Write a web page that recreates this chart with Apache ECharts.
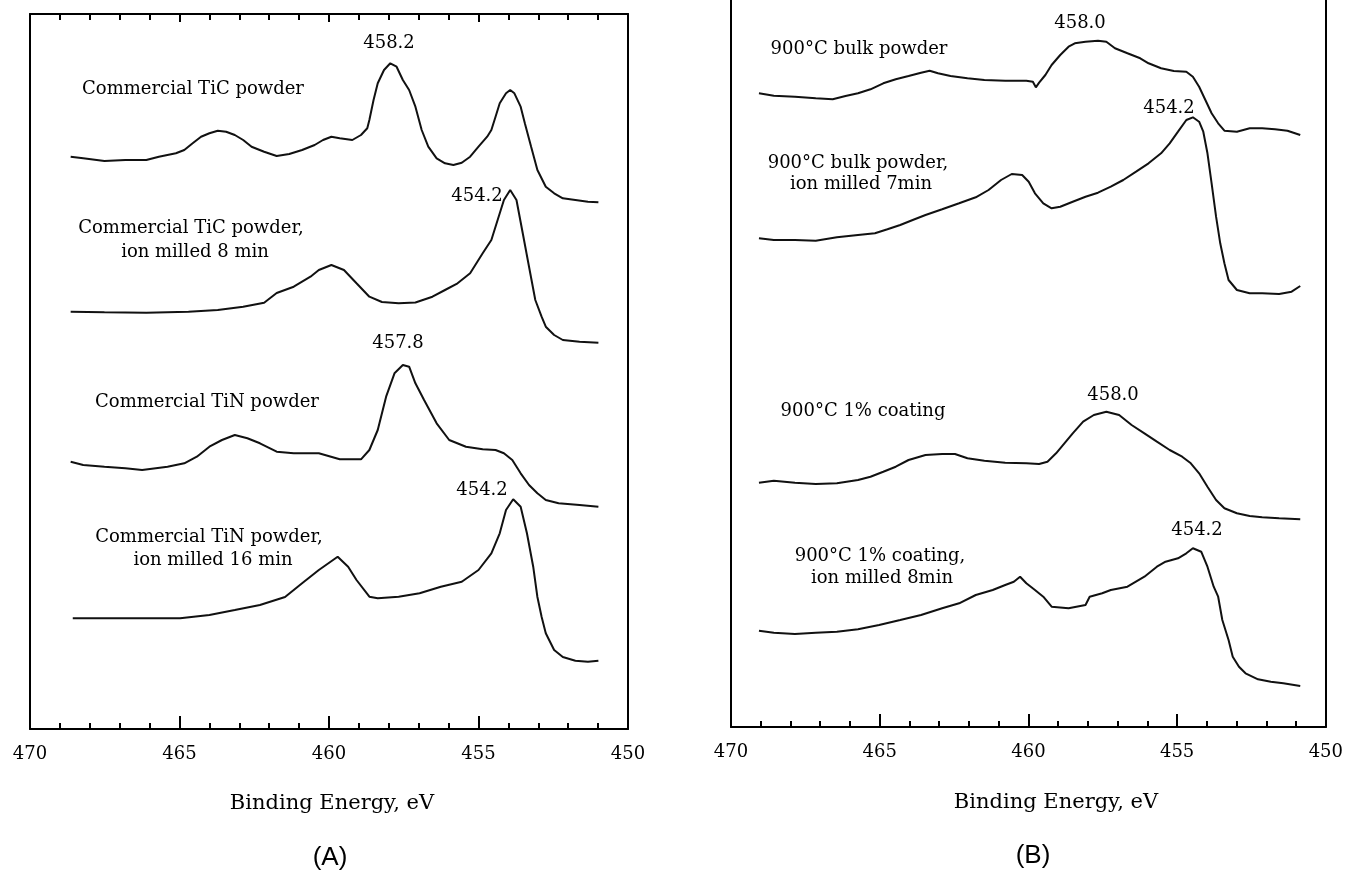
<!DOCTYPE html>
<html>
<head>
<meta charset="utf-8">
<script src="https://cdn.jsdelivr.net/npm/echarts@6/dist/echarts.min.js"></script>
<style>html,body{margin:0;padding:0;background:#fff}#c{width:1346px;height:874px}</style>
</head>
<body>
<div id="c"></div>
<script>
// Binding energy ticks (eV)
const energyTicks = [470, 465, 460, 455, 450];

// Panel A spectra: [binding energy eV, intensity a.u. (offset)]
const ticPowder = [[468.64,57.03],[468.22,56.87],[467.51,56.6],[466.81,56.7],[466.11,56.7],[465.69,57.03],[465.12,57.37],[464.84,57.7],[464.56,58.37],[464.28,59.03],[464.0,59.37],[463.72,59.63],[463.44,59.53],[463.15,59.2],[462.87,58.7],[462.59,58.03],[462.17,57.53],[461.75,57.1],[461.33,57.3],[460.9,57.7],[460.48,58.2],[460.2,58.7],[459.92,59.03],[459.64,58.87],[459.22,58.7],[458.93,59.2],[458.72,59.87],[458.65,60.7],[458.51,62.7],[458.37,64.37],[458.16,65.7],[457.95,66.37],[457.74,66.03],[457.53,64.7],[457.32,63.7],[457.11,62.03],[456.9,59.7],[456.68,58.03],[456.4,56.87],[456.12,56.37],[455.84,56.2],[455.56,56.43],[455.28,57.03],[455.0,58.03],[454.71,59.03],[454.57,59.7],[454.43,61.03],[454.29,62.37],[454.08,63.37],[453.94,63.7],[453.8,63.37],[453.59,62.03],[453.45,60.37],[453.24,58.03],[453.03,55.7],[452.75,54.03],[452.47,53.37],[452.18,52.87],[451.76,52.7],[451.34,52.53],[450.99,52.47]];
const ticMilled = [[468.64,41.53],[467.51,41.47],[466.11,41.43],[464.7,41.53],[463.72,41.7],[462.87,42.03],[462.17,42.43],[461.75,43.4],[461.18,44.03],[460.62,45.03],[460.34,45.7],[459.92,46.2],[459.5,45.7],[459.08,44.37],[458.65,43.03],[458.23,42.5],[457.67,42.37],[457.11,42.45],[456.54,43.03],[456.12,43.7],[455.7,44.37],[455.28,45.37],[454.86,47.37],[454.57,48.7],[454.36,50.7],[454.15,52.7],[453.94,53.7],[453.73,52.7],[453.52,49.37],[453.31,46.03],[453.1,42.7],[452.89,41.03],[452.75,40.03],[452.47,39.2],[452.18,38.7],[451.62,38.53],[450.99,38.43]];
const tinPowder = [[468.64,26.53],[468.22,26.2],[467.51,26.03],[466.81,25.87],[466.25,25.7],[465.4,26.03],[464.84,26.37],[464.42,27.03],[464.0,28.03],[463.58,28.7],[463.15,29.2],[462.73,28.87],[462.31,28.37],[461.75,27.53],[461.18,27.37],[460.34,27.37],[459.64,26.77],[458.93,26.77],[458.65,27.7],[458.37,29.7],[458.09,33.03],[457.81,35.37],[457.53,36.2],[457.32,36.03],[457.11,34.37],[456.82,32.7],[456.4,30.37],[455.98,28.7],[455.42,28.03],[454.86,27.77],[454.43,27.7],[454.15,27.37],[453.87,26.7],[453.59,25.37],[453.31,24.2],[453.03,23.37],[452.75,22.7],[452.32,22.37],[451.62,22.2],[450.99,22.03]];
const tinMilled = [[468.57,10.87],[467.51,10.87],[466.11,10.87],[464.98,10.87],[464.0,11.2],[463.15,11.7],[462.31,12.2],[461.47,13.0],[460.9,14.37],[460.34,15.7],[459.71,17.03],[459.36,16.03],[459.08,14.7],[458.65,13.03],[458.37,12.87],[457.67,13.03],[456.97,13.37],[456.26,14.03],[455.56,14.53],[455.0,15.7],[454.57,17.37],[454.29,19.37],[454.08,21.7],[453.84,22.77],[453.59,22.03],[453.38,19.37],[453.17,16.03],[453.03,13.0],[452.89,11.03],[452.75,9.37],[452.47,7.7],[452.18,7.0],[451.76,6.63],[451.34,6.53],[450.99,6.63]];

// Panel B spectra
const bulkPowder = [[469.06,63.37],[468.56,63.13],[467.85,63.03],[467.15,62.87],[466.58,62.77],[466.15,63.1],[465.73,63.37],[465.31,63.77],[464.88,64.37],[464.46,64.77],[464.03,65.1],[463.61,65.43],[463.32,65.63],[463.04,65.37],[462.62,65.1],[462.05,64.87],[461.48,64.7],[460.78,64.63],[460.07,64.63],[459.85,64.53],[459.75,63.97],[459.64,64.43],[459.43,65.2],[459.22,66.2],[458.93,67.2],[458.65,68.03],[458.44,68.37],[458.08,68.53],[457.66,68.63],[457.38,68.53],[457.09,67.87],[456.67,67.37],[456.24,66.87],[455.96,66.37],[455.54,65.87],[455.11,65.6],[454.69,65.53],[454.47,65.03],[454.26,64.03],[454.05,62.7],[453.84,61.37],[453.62,60.37],[453.41,59.63],[452.99,59.53],[452.56,59.87],[452.14,59.87],[451.71,59.77],[451.29,59.63],[450.86,59.2]];
const bulkMilled = [[469.06,48.87],[468.56,48.7],[467.85,48.7],[467.15,48.63],[466.44,48.97],[465.73,49.2],[465.16,49.37],[464.74,49.77],[464.31,50.2],[463.89,50.7],[463.46,51.2],[462.9,51.77],[462.33,52.37],[461.77,52.97],[461.34,53.7],[460.92,54.7],[460.56,55.3],[460.21,55.2],[459.99,54.53],[459.78,53.37],[459.5,52.37],[459.22,51.87],[458.93,52.03],[458.51,52.53],[458.08,53.03],[457.66,53.43],[457.23,54.03],[456.81,54.7],[456.38,55.53],[455.96,56.37],[455.54,57.37],[455.25,58.37],[454.97,59.53],[454.69,60.7],[454.47,60.97],[454.26,60.53],[454.12,59.53],[453.98,57.37],[453.84,54.37],[453.69,51.03],[453.55,48.37],[453.41,46.37],[453.27,44.7],[452.99,43.7],[452.56,43.37],[452.14,43.37],[451.57,43.3],[451.15,43.53],[450.86,44.1]];
const coating = [[469.06,24.43],[468.56,24.63],[467.85,24.43],[467.15,24.3],[466.44,24.37],[465.73,24.7],[465.31,25.03],[464.88,25.53],[464.46,26.03],[464.03,26.7],[463.46,27.2],[462.9,27.3],[462.47,27.3],[462.05,26.87],[461.48,26.63],[460.78,26.43],[460.07,26.37],[459.64,26.3],[459.36,26.53],[459.07,27.37],[458.79,28.37],[458.51,29.37],[458.16,30.53],[457.8,31.2],[457.38,31.53],[456.95,31.2],[456.53,30.2],[456.1,29.37],[455.68,28.53],[455.25,27.7],[454.83,27.03],[454.54,26.37],[454.26,25.37],[453.98,24.03],[453.69,22.7],[453.41,21.87],[452.99,21.37],[452.56,21.1],[452.14,20.97],[451.57,20.87],[450.86,20.77]];
const coatingMilled = [[469.06,9.63],[468.56,9.43],[467.85,9.3],[467.15,9.43],[466.44,9.53],[465.73,9.77],[465.02,10.2],[464.31,10.7],[463.61,11.2],[462.9,11.87],[462.33,12.37],[461.77,13.2],[461.2,13.7],[460.78,14.2],[460.49,14.53],[460.28,15.03],[460.07,14.37],[459.78,13.7],[459.5,13.03],[459.22,12.03],[458.65,11.87],[458.08,12.2],[457.94,13.03],[457.52,13.37],[457.23,13.7],[456.67,14.03],[456.1,15.03],[455.68,16.03],[455.39,16.53],[454.97,16.87],[454.69,17.37],[454.47,17.87],[454.19,17.53],[453.98,16.03],[453.77,14.03],[453.62,13.03],[453.48,10.7],[453.27,8.7],[453.13,7.03],[452.92,6.03],[452.7,5.37],[452.28,4.77],[451.85,4.53],[451.43,4.37],[450.86,4.1]];

const serif = 'DejaVu Serif';
const lineStyle = {color: '#111', width: 2};

function xAxisBottom(gridIndex) {
  return {
    type: 'value', gridIndex, position: 'bottom', min: 450, max: 470, interval: 5, inverse: true,
    axisLine: {show: true, onZero: false, lineStyle: {color: '#000', width: 2}},
    axisTick: {show: true, inside: true, length: 13, lineStyle: {color: '#000', width: 2}},
    minorTick: {show: true, splitNumber: 5, length: 6, lineStyle: {color: '#000', width: 2}},
    splitLine: {show: false},
    axisLabel: {show: true, margin: 16, fontFamily: serif, fontSize: 18, color: '#000',
      formatter: v => energyTicks.includes(v) ? String(v) : ''}
  };
}
function xAxisTop(gridIndex) {
  return {
    type: 'value', gridIndex, position: 'top', min: 450, max: 470, interval: 5, inverse: true,
    axisLine: {show: true, onZero: false, lineStyle: {color: '#000', width: 2}},
    axisTick: {show: true, inside: true, length: 8, lineStyle: {color: '#000', width: 2}},
    minorTick: {show: true, splitNumber: 5, length: 6, lineStyle: {color: '#000', width: 2}},
    splitLine: {show: false}, axisLabel: {show: false}
  };
}
function yAxis(gridIndex, min, max) {
  return {type: 'value', gridIndex, min, max, position: 'left',
    axisLine: {show: true, onZero: false, lineStyle: {color: '#000', width: 2}},
    axisTick: {show: false}, axisLabel: {show: false}, splitLine: {show: false}};
}
function yAxisRight(gridIndex, min, max) {
  return {type: 'value', gridIndex, min, max, position: 'right',
    axisLine: {show: true, onZero: false, lineStyle: {color: '#000', width: 2}},
    axisTick: {show: false}, axisLabel: {show: false}, splitLine: {show: false}};
}
function line(name, data, xi, yi) {
  return {name, type: 'line', data, xAxisIndex: xi, yAxisIndex: yi, showSymbol: false,
    symbol: 'none', lineStyle, animation: false, silent: true};
}
function txt(text, x, y, size, family) {
  return {type: 'text', x, y, style: {text, fill: '#000', font: (size || 18) + 'px "' + (family || serif) + '"',
    textAlign: 'center', textVerticalAlign: 'middle'}};
}

const chart = echarts.init(document.getElementById('c'), null, {renderer: 'canvas'});
chart.setOption({
  animation: false,
  backgroundColor: '#fff',
  grid: [
    {left: 30, top: 14, width: 598, height: 715, show: false},
    {left: 731, top: 0, width: 596, height: 727, show: false}
  ],
  xAxis: [xAxisBottom(0), xAxisTop(0), xAxisBottom(1)],
  yAxis: [yAxis(0, -0.2, 71.3), yAxisRight(0, -0.2, 71.3), yAxis(1, 0, 72.7), yAxisRight(1, 0, 72.7)],
  series: [
    line('Commercial TiC powder', ticPowder, 0, 0),
    line('Commercial TiC powder, ion milled 8 min', ticMilled, 0, 0),
    line('Commercial TiN powder', tinPowder, 0, 0),
    line('Commercial TiN powder, ion milled 16 min', tinMilled, 0, 0),
    line('900°C bulk powder', bulkPowder, 2, 2),
    line('900°C bulk powder, ion milled 7min', bulkMilled, 2, 2),
    line('900°C 1% coating', coating, 2, 2),
    line('900°C 1% coating, ion milled 8min', coatingMilled, 2, 2)
  ],
  graphic: [
    txt('458.2', 389, 43),
    txt('Commercial TiC powder', 193, 89),
    txt('454.2', 477, 196),
    txt('Commercial TiC powder,', 191, 228),
    txt('ion milled 8 min', 195, 252),
    txt('457.8', 398, 343),
    txt('Commercial TiN powder', 207, 402),
    txt('454.2', 482, 490),
    txt('Commercial TiN powder,', 209, 537),
    txt('ion milled 16 min', 213, 560),
    txt('458.0', 1080, 23),
    txt('900°C bulk powder', 859, 49),
    txt('454.2', 1169, 108),
    txt('900°C bulk powder,', 858, 163),
    txt('ion milled 7min', 861, 184),
    txt('458.0', 1113, 395),
    txt('900°C 1% coating', 863, 411),
    txt('454.2', 1197, 530),
    txt('900°C 1% coating,', 880, 556),
    txt('ion milled 8min', 882, 578),
    txt('Binding Energy, eV', 332, 804, 21),
    txt('Binding Energy, eV', 1056, 803, 21),
    txt('(A)', 330, 858, 26, 'Liberation Sans'),
    txt('(B)', 1033, 856, 26, 'Liberation Sans')
  ]
});
</script>
</body>
</html>
